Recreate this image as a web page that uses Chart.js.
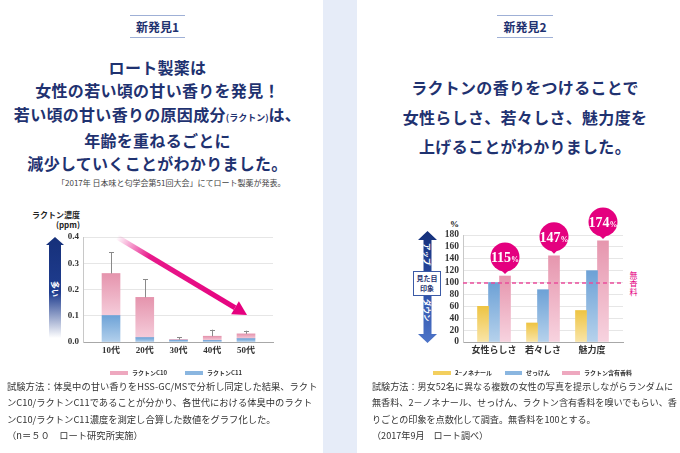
<!DOCTYPE html>
<html lang="ja">
<head>
<meta charset="utf-8">
<script src="https://cdn.jsdelivr.net/npm/chart.js@4.4.1/dist/chart.umd.min.js"></script>
<style>
  html, body { margin: 0; padding: 0; }
  body { width: 680px; height: 453px; position: relative; overflow: hidden; background: #fff;
         font-family: "Noto Sans CJK JP", sans-serif; color: #333; }
  .abs { position: absolute; }
  .strip { left: 323px; top: 0; width: 34px; height: 453px; background: #e6ecf8; }
  .tag { border-top: 1px solid #9fb0d6; border-bottom: 1px solid #9fb0d6; color: #1f3270;
         font-weight: 700; font-size: 12px; line-height: 21px; text-align: center; }
  .lead { color: #1f3270; font-weight: 700; font-size: 16px; text-align: center;
          letter-spacing: 0.3px; white-space: nowrap; }
  .lead small { font-size: 9px; letter-spacing: 0; }
  .note { font-size: 8px; color: #444; white-space: nowrap; }
  .foot { font-size: 9.3px; line-height: 16.3px; color: #333; white-space: nowrap; }
  .legend { display: flex; align-items: center; font-size: 6px; font-weight: 700; color: #333; white-space: nowrap; }
  .legend i { display: inline-block; width: 18px; height: 4px; margin-right: 4px; }
  .legend span { margin-right: 18px; }
  .vt { writing-mode: vertical-rl; text-orientation: sideways; color: #fff; font-weight: 700; }
</style>
</head>
<body>
<div class="abs strip"></div>

<!-- left panel -->
<div class="abs tag" style="left:130px; top:15px; width:55px; height:21px;">新発見1</div>
<div class="abs lead" style="left:0; top:56px; width:315px; line-height:23.3px;">
  ロート製薬は<br>女性の若い頃の甘い香りを発見！<br>若い頃の甘い香りの原因成分<small>(ラクトン)</small>は、<br>年齢を重ねるごとに<br>減少していくことがわかりました。
</div>
<div class="abs note" style="left:57px; top:177px;">「2017年 日本味と匂学会第51回大会」にてロート製薬が発表。</div>

<div class="abs" style="left:20px; top:210px; width:60px; text-align:right; font-size:8px; font-weight:700; line-height:10px; color:#222;">ラクトン濃度<br>(ppm)</div>
<div class="abs" style="left:46px; top:237px; width:18px; height:101px;
     clip-path: polygon(50% 0, 100% 8px, 15px 8px, 15px 100%, 3px 100%, 3px 8px, 0 8px);
     background: linear-gradient(to bottom, #16307a 0%, #1f3d8f 55%, #ffffff 100%);"></div>
<div class="abs vt" style="left:50px; top:281px; width:10px; font-size:8px; line-height:10px;">多い</div>

<canvas id="left" class="abs" width="323" height="170" style="left:0; top:200px;"></canvas>
<div class="abs legend" style="left:110px; top:368px;">
  <i style="background:#eea8bf"></i><span>ラクトンC10</span>
  <i style="background:#8ab6e0"></i><span>ラクトンC11</span>
</div>

<div class="abs foot" style="left:7px; top:378px;">
  試験方法：体臭中の甘い香りをHSS-GC/MSで分析し同定した結果、ラクト<br>ンC10/ラクトンC11であることが分かり、各世代における体臭中のラクト<br>ンC10/ラクトンC11濃度を測定し合算した数値をグラフ化した。<br>（n＝５０　ロート研究所実施）
</div>

<!-- right panel -->
<div class="abs tag" style="left:497px; top:15px; width:56px; height:21px;">新発見2</div>
<div class="abs lead" style="left:370px; top:73px; width:310px; line-height:29.5px;">
  ラクトンの香りをつけることで<br>女性らしさ、若々しさ、魅力度を<br>上げることがわかりました。
</div>

<div class="abs" style="left:450px; top:219px; font-size:9px; font-weight:700; font-family:'Liberation Serif', serif; color:#222;">%</div>
<div class="abs" style="left:418px; top:231px; width:19px; height:112px;
     clip-path: polygon(50% 0, 100% 9px, 13.5px 9px, 13.5px calc(100% - 9px), 100% calc(100% - 9px), 50% 100%, 0 calc(100% - 9px), 5.5px calc(100% - 9px), 5.5px 9px, 0 9px);
     background: linear-gradient(to bottom, #15307a 0%, #2b4ea6 50%, #4d74c8 100%);"></div>
<div class="abs vt" style="left:423px; top:243px; width:9px; font-size:7.5px; line-height:9px;">アップ</div>
<div class="abs vt" style="left:423px; top:299px; width:9px; font-size:7.5px; line-height:9px;">ダウン</div>
<div class="abs" style="left:413px; top:271px; width:26px; height:22px; background:#fff; border:1px solid #3b5aa6;
     color:#1f3270; font-size:7px; font-weight:700; line-height:10px; text-align:center; padding-top:1px;">見た目<br>印象</div>
<div class="abs" style="left:629px; top:271px; width:9px; font-size:8px; line-height:8.3px; color:#e4007f; text-align:center;">無<br>香<br>料</div>

<canvas id="right" class="abs" width="323" height="170" style="left:357px; top:200px;"></canvas>
<div class="abs legend" style="left:433px; top:368px;">
  <i style="background:#f3cf5e"></i><span style="margin-right:13px">2−ノネナール</span>
  <i style="background:#8ab6e0; width:17px"></i><span style="margin-right:12px">せっけん</span>
  <i style="background:#eea8bf"></i><span>ラクトン含有香料</span>
</div>

<div class="abs foot" style="left:372px; top:378px; font-size:9.1px;">
  試験方法：男女52名に異なる複数の女性の写真を提示しながらランダムに<br>無香料、2－ノネナール、せっけん、ラクトン含有香料を嗅いでもらい、香<br>りごとの印象を点数化して調査。無香料を100とする。<br>（2017年9月　ロート調べ）
</div>

<script>
// left chart: lactone concentration by age (ppm)
const ages = ['10代', '20代', '30代', '40代', '50代'];
const c10 = [0.160, 0.153, 0.002, 0.016, 0.018];
const c11 = [0.101, 0.017, 0.007, 0.006, 0.013];
const totalErr = [0.080, 0.069, 0.010, 0.025, 0.012];
const trendFrom = [0.18, 0.40];
const trendTo = [4.03, 0.103];

// right chart: impression score, unscented = 100
const traits = ['女性らしさ', '若々しさ', '魅力度'];
const nonenal = [60, 32, 53];
const soap = [100, 88, 120];
const lactone = [111, 145, 170];
const lactoneTags = ['115', '147', '174'];
const unscented = 100;

Chart.defaults.font.family = "'Liberation Serif', 'Noto Sans CJK JP', serif";
Chart.defaults.color = '#333';

const points = (arr) => arr.map((v, i) => ({ x: i, y: v }));

// darker at the top of each bar, lighter at its base
function barFill(dark, light, from, to) {
  return (c) => {
    if (c.type !== 'data' || !c.chart.scales.y) return dark;
    const y = c.chart.scales.y;
    const top = y.getPixelForValue(to(c.dataIndex));
    const bottom = y.getPixelForValue(from(c.dataIndex));
    if (!isFinite(top) || !isFinite(bottom) || bottom - top < 1) return dark;
    const g = c.chart.ctx.createLinearGradient(0, top, 0, bottom);
    g.addColorStop(0, dark);
    g.addColorStop(1, light);
    return g;
  };
}

// numeric x axis so the category spacing can be set exactly
function categoryAxis(labels, min, max, height, font) {
  return {
    type: 'linear',
    offset: false,
    min: min,
    max: max,
    afterBuildTicks: (axis) => { axis.ticks = labels.map((_, i) => ({ value: i })); },
    afterFit: (axis) => {
      axis.height = height;
      axis.paddingLeft = 0;
      axis.paddingRight = 0;
    },
    ticks: { callback: (v) => labels[v], autoSkip: false, maxRotation: 0, padding: 3, font: font, color: '#333' },
    grid: { display: false, drawTicks: false, offset: false },
    border: { display: true, color: '#a8a8a8' }
  };
}

const errorBars = {
  id: 'errorBars',
  afterDatasetsDraw(chart) {
    const { ctx, scales: { x, y } } = chart;
    ctx.save();
    ctx.strokeStyle = '#8a8a8a';
    ctx.lineWidth = 1;
    ages.forEach((_, i) => {
      const total = c10[i] + c11[i];
      const px = Math.round(x.getPixelForValue(i)) + 0.5;
      const y0 = y.getPixelForValue(total);
      const y1 = y.getPixelForValue(total + totalErr[i]);
      ctx.beginPath();
      ctx.moveTo(px, y0);
      ctx.lineTo(px, y1);
      ctx.moveTo(px - 2.5, Math.round(y1) + 0.5);
      ctx.lineTo(px + 2.5, Math.round(y1) + 0.5);
      ctx.stroke();
    });

    // decreasing trend arrow
    const x0 = x.getPixelForValue(trendFrom[0]), yy0 = y.getPixelForValue(trendFrom[1]);
    const x1 = x.getPixelForValue(trendTo[0]), yy1 = y.getPixelForValue(trendTo[1]);
    const a = Math.atan2(yy1 - yy0, x1 - x0);
    const head = 14, half = 7.5;
    const bx = x1 - head * Math.cos(a), by = yy1 - head * Math.sin(a);
    const g = ctx.createLinearGradient(x0, yy0, x1, yy1);
    g.addColorStop(0, 'rgba(229,0,126,0)');
    g.addColorStop(0.25, 'rgba(229,0,126,0.9)');
    g.addColorStop(1, '#e5007e');
    ctx.strokeStyle = g;
    ctx.lineWidth = 5;
    ctx.beginPath();
    ctx.moveTo(x0, yy0);
    ctx.lineTo(bx, by);
    ctx.stroke();
    ctx.fillStyle = '#e5007e';
    ctx.beginPath();
    ctx.moveTo(x1, yy1);
    ctx.lineTo(bx - half * Math.sin(a), by + half * Math.cos(a));
    ctx.lineTo(bx + half * Math.sin(a), by - half * Math.cos(a));
    ctx.closePath();
    ctx.fill();
    ctx.restore();
  }
};

new Chart(document.getElementById('left'), {
  type: 'bar',
  data: {
    datasets: [
      {
        label: 'ラクトンC11',
        data: points(c11),
        backgroundColor: barFill('#6ea3d7', '#b3d0ec', () => 0, (i) => c11[i]),
        barThickness: 18
      },
      {
        label: 'ラクトンC10',
        data: points(c10),
        backgroundColor: barFill('#e594ad', '#f5ccda', (i) => c11[i], (i) => c11[i] + c10[i]),
        barThickness: 18
      }
    ]
  },
  options: {
    responsive: false,
    animation: false,
    devicePixelRatio: 1,
    layout: { padding: { top: 37, right: 50, left: 0, bottom: 0 } },
    scales: {
      x: Object.assign(categoryAxis(ages, -0.83, 4.80, 28, { size: 9, weight: 'bold' }), { stacked: true }),
      y: {
        stacked: true,
        min: 0,
        max: 0.4,
        afterFit: (axis) => { axis.width = 83; },
        ticks: { stepSize: 0.1, autoSkip: false, callback: (v) => v.toFixed(1), padding: 4, font: { size: 9, weight: 'bold' }, color: '#333' },
        grid: { color: '#e6e6e6', drawTicks: false },
        border: { display: true, color: '#c8c8c8' }
      }
    },
    plugins: { legend: { display: false }, tooltip: { enabled: false } }
  },
  plugins: [errorBars]
});

const bubbles = {
  id: 'bubbles',
  afterDatasetsDraw(chart) {
    const { ctx, chartArea, scales: { y } } = chart;
    ctx.save();
    // unscented baseline
    const by = Math.round(y.getPixelForValue(unscented));
    ctx.strokeStyle = '#ea4c9c';
    ctx.lineWidth = 1.5;
    ctx.setLineDash([4, 3]);
    ctx.beginPath();
    ctx.moveTo(chartArea.left, by);
    ctx.lineTo(chartArea.right, by);
    ctx.stroke();
    ctx.setLineDash([]);

    const meta = chart.getDatasetMeta(2);
    meta.data.forEach((el, i) => {
      const r = 14.5;
      const cy = el.y - 19;
      ctx.fillStyle = '#e4007f';
      ctx.beginPath();
      ctx.arc(el.x, cy, r, 0, Math.PI * 2);
      ctx.fill();
      ctx.beginPath();
      ctx.moveTo(el.x - 4.5, cy + r - 2);
      ctx.lineTo(el.x + 4.5, cy + r - 2);
      ctx.lineTo(el.x, el.y - 2);
      ctx.closePath();
      ctx.fill();

      ctx.fillStyle = '#fff';
      ctx.textBaseline = 'alphabetic';
      ctx.textAlign = 'left';
      const big = "bold 14px 'Liberation Serif'";
      const small = "bold 8px 'Liberation Serif'";
      ctx.font = big;
      const w1 = ctx.measureText(lactoneTags[i]).width;
      ctx.font = small;
      const w2 = ctx.measureText('%').width;
      const sx = el.x - (w1 + w2) / 2;
      ctx.font = big;
      ctx.fillText(lactoneTags[i], sx, cy + 5);
      ctx.font = small;
      ctx.fillText('%', sx + w1, cy + 5);
    });
    ctx.restore();
  }
};

new Chart(document.getElementById('right'), {
  type: 'bar',
  data: {
    datasets: [
      {
        label: '2−ノネナール',
        data: points(nonenal),
        backgroundColor: barFill('#eec443', '#f9e5a8', () => 0, (i) => nonenal[i]),
        barThickness: 11
      },
      {
        label: 'せっけん',
        data: points(soap),
        backgroundColor: barFill('#6da1d6', '#b6d2ec', () => 0, (i) => soap[i]),
        barThickness: 11
      },
      {
        label: 'ラクトン含有香料',
        data: points(lactone),
        backgroundColor: barFill('#e696ae', '#f7d3df', () => 0, (i) => lactone[i]),
        barThickness: 11
      }
    ]
  },
  options: {
    responsive: false,
    animation: false,
    devicePixelRatio: 1,
    layout: { padding: { top: 35, right: 57, left: 0, bottom: 0 } },
    scales: {
      x: categoryAxis(traits, -0.633, 2.633, 28, { size: 9, weight: 'bold' }),
      y: {
        min: 0,
        max: 180,
        afterFit: (axis) => { axis.width = 106; },
        ticks: { stepSize: 20, autoSkip: false, padding: 4, font: { size: 9.5, weight: 'bold' }, color: '#333' },
        grid: { color: '#e6e6e6', drawTicks: false },
        border: { display: true, color: '#c8c8c8' }
      }
    },
    plugins: { legend: { display: false }, tooltip: { enabled: false } }
  },
  plugins: [bubbles]
});
</script>
</body>
</html>
